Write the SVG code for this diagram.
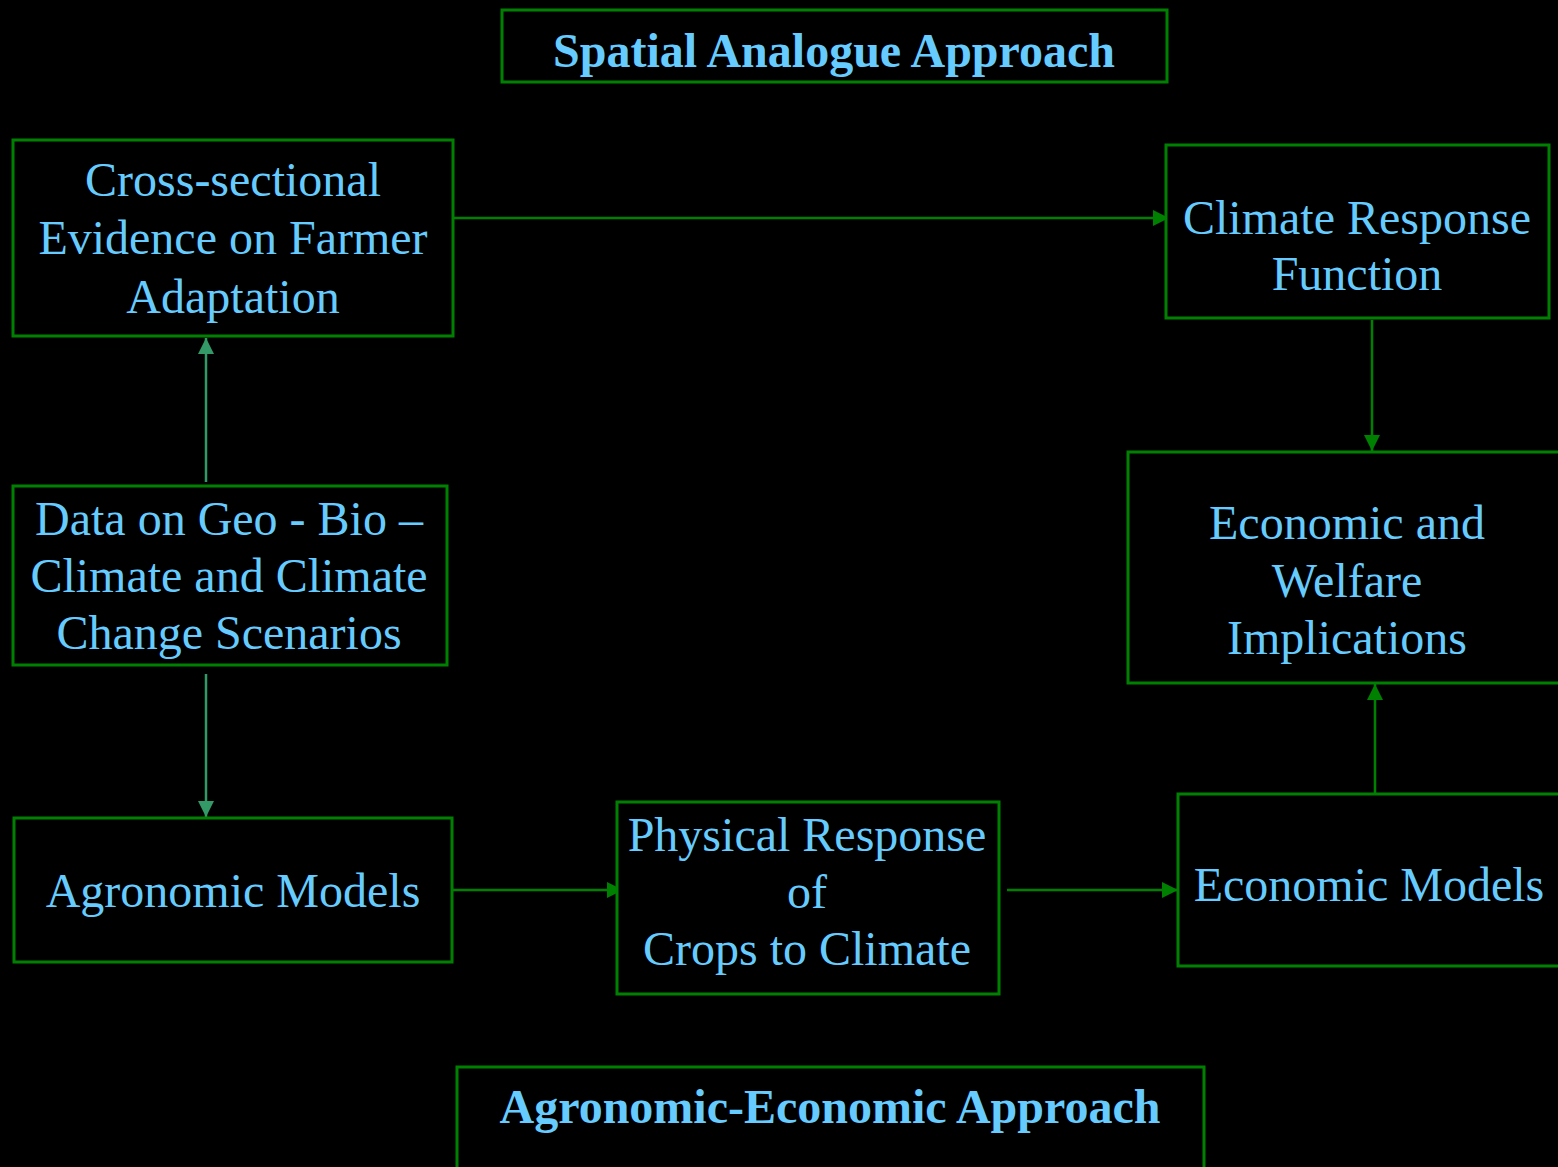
<svg xmlns="http://www.w3.org/2000/svg" width="1558" height="1167" viewBox="0 0 1558 1167">
  <defs>
    <style>
      .box { fill: #000000; stroke: #008000; stroke-width: 3; }
      .lbl { font-family: "Liberation Serif", "Times New Roman", serif; font-size: 48px; fill: #66ccff; text-anchor: middle; }
      .ttl { font-family: "Liberation Serif", "Times New Roman", serif; font-size: 48px; font-weight: bold; fill: #66ccff; text-anchor: middle; }
      .link { fill: none; stroke: #008000; stroke-width: 2.5; }
      .link2 { fill: none; stroke: #339966; stroke-width: 2.5; }
    </style>
    <marker id="arr" viewBox="0 0 16 16" markerWidth="16" markerHeight="16" refX="16" refY="8" orient="auto" markerUnits="userSpaceOnUse">
      <path d="M0,0 L16,8 L0,16 Z" fill="#008000"/>
    </marker>
    <marker id="arr2" viewBox="0 0 16 16" markerWidth="16" markerHeight="16" refX="16" refY="8" orient="auto" markerUnits="userSpaceOnUse">
      <path d="M0,0 L16,8 L0,16 Z" fill="#339966"/>
    </marker>
  </defs>

  <rect width="1558" height="1167" fill="#000000"/>

  <!-- connectors -->
  <g id="connectors">
    <line class="link" x1="454" y1="218" x2="1169" y2="218" marker-end="url(#arr)"/>
    <line class="link2" x1="206" y1="482" x2="206" y2="338" marker-end="url(#arr2)"/>
    <line class="link2" x1="206" y1="674" x2="206" y2="817" marker-end="url(#arr2)"/>
    <line class="link" x1="1372" y1="320" x2="1372" y2="451" marker-end="url(#arr)"/>
    <line class="link" x1="1375" y1="793" x2="1375" y2="684" marker-end="url(#arr)"/>
    <line class="link" x1="453" y1="890" x2="623" y2="890" marker-end="url(#arr)"/>
    <line class="link" x1="1007" y1="890" x2="1178" y2="890" marker-end="url(#arr)"/>
  </g>

  <g id="spatial-title">
    <rect class="box" x="502" y="10" width="665" height="72"/>
    <text class="ttl" x="834" y="67">Spatial Analogue Approach</text>
  </g>

  <g id="cross-sectional">
    <rect class="box" x="13" y="140" width="440" height="196"/>
    <text class="lbl" x="233" y="196">Cross-sectional</text>
    <text class="lbl" x="233" y="254">Evidence on Farmer</text>
    <text class="lbl" x="233" y="313">Adaptation</text>
  </g>

  <g id="climate-response">
    <rect class="box" x="1166" y="145" width="383" height="173"/>
    <text class="lbl" x="1357" y="234">Climate Response</text>
    <text class="lbl" x="1357" y="290">Function</text>
  </g>

  <g id="economic-welfare">
    <rect class="box" x="1128" y="452" width="440" height="231"/>
    <text class="lbl" x="1347" y="539">Economic and</text>
    <text class="lbl" x="1347" y="597">Welfare</text>
    <text class="lbl" x="1347" y="654">Implications</text>
  </g>

  <g id="data-geo-bio">
    <rect class="box" x="13" y="486" width="434" height="179"/>
    <text class="lbl" x="229" y="535">Data on Geo - Bio –</text>
    <text class="lbl" x="229" y="592">Climate and Climate</text>
    <text class="lbl" x="229" y="649">Change Scenarios</text>
  </g>

  <g id="agronomic-models">
    <rect class="box" x="14" y="818" width="438" height="144"/>
    <text class="lbl" x="233" y="907">Agronomic Models</text>
  </g>

  <g id="physical-response">
    <rect class="box" x="617" y="802" width="382" height="192"/>
    <text class="lbl" x="807" y="851">Physical Response</text>
    <text class="lbl" x="807" y="908">of</text>
    <text class="lbl" x="807" y="965">Crops to Climate</text>
  </g>

  <g id="economic-models">
    <rect class="box" x="1178" y="794" width="385" height="172"/>
    <text class="lbl" x="1369" y="901">Economic Models</text>
  </g>

  <g id="agro-econ-title">
    <rect class="box" x="457" y="1067" width="747" height="120"/>
    <text class="ttl" x="830" y="1123">Agronomic-Economic Approach</text>
  </g>
</svg>
